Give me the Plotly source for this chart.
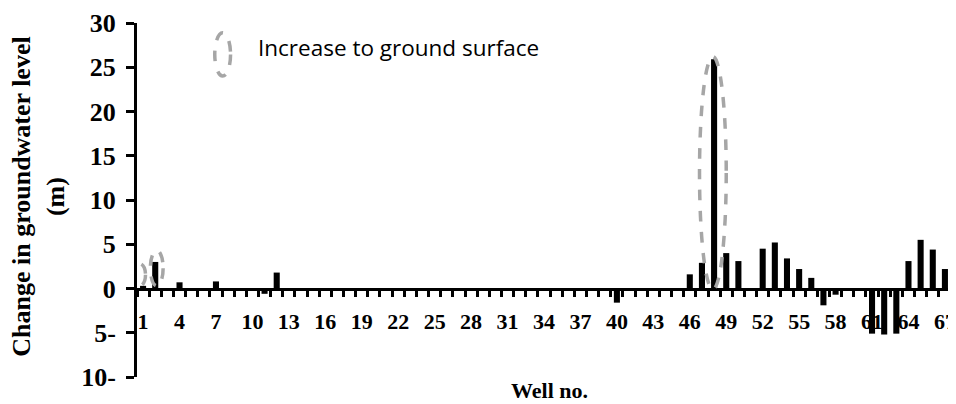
import plotly.graph_objects as go

wells = list(range(1, 68))
change_m = [
    0.3, 3.0, 0, 0.7, 0, 0, 0.8, 0, 0, 0,
    -0.6, 1.8, 0, 0, 0, 0, 0, 0, 0, 0,
    0, 0, 0, 0, 0, 0, 0, 0, 0, 0,
    0, 0, 0, 0, 0, 0, 0, 0, 0, -1.6,
    0, 0, 0, 0, 0, 1.6, 2.9, 25.9, 4.0, 3.1,
    0, 4.5, 5.2, 3.4, 2.2, 1.2, -1.9, -0.7, 0, 0,
    -5.1, -5.2, -5.1, 3.1, 5.5, 4.4, 2.2,
]
x_tick_vals = list(range(1, 68, 3))
x_tick_text = [str(v) for v in x_tick_vals]
y_tick_vals = [-10, -5, 0, 5, 10, 15, 20, 25, 30]
y_tick_text = ["10-", "5-", "0", "5", "10", "15", "20", "25", "30"]

# ellipses marking "increase to ground surface": (x0, x1, y0, y1) in data units
ellipses = [
    (0.25, 1.2, 0.3, 2.8),
    (1.6, 2.65, 0.3, 4.3),
    (46.8, 49.0, -0.1, 26.2),
]
legend_ellipse = (6.9, 8.2, 24.0, 28.9)
legend_label = "Increase to ground surface"

# tick marks sit on the boundaries between wells
boundaries = [w - 0.5 for w in wells] + [wells[-1] + 0.5]

serif = "Liberation Serif"
fig = go.Figure()
fig.add_trace(go.Bar(x=wells, y=change_m, width=0.5,
                     marker=dict(color="black", line=dict(width=0)),
                     showlegend=False))
# invisible trace so the tick-mark axis is drawn
fig.add_trace(go.Scatter(x=[boundaries[0]], y=[0], xaxis="x2", mode="markers",
                         marker=dict(opacity=0), showlegend=False, hoverinfo="skip"))

gray = "#a6a6a6"
for (x0, x1, y0, y1) in ellipses + [legend_ellipse]:
    fig.add_shape(type="circle", xref="x", yref="y", x0=x0, x1=x1, y0=y0, y1=y1,
                  line=dict(color=gray, width=3.5, dash="dash"), layer="above")

fig.add_annotation(x=10.3, y=27.25, xref="x", yref="y", text=legend_label,
                   showarrow=False, xanchor="left", yanchor="middle",
                   font=dict(family="Open Sans", size=22.5, color="black"))

fig.add_annotation(x=(38 - 137) / 819, y=0.508, xref="paper", yref="paper",
                   text="<b>Change in groundwater level<br>(m)</b>", textangle=-90,
                   showarrow=False, xanchor="center", yanchor="middle",
                   font=dict(family=serif, size=26, color="black"))

fig.add_annotation(x=(552 - 137) / 819, y=-0.038, xref="paper", yref="paper",
                   text="<b>Well no.</b>", showarrow=False,
                   xanchor="center", yanchor="middle", borderpad=0,
                   font=dict(family=serif, size=22, color="black"))

fig.update_layout(
    width=948, height=396,
    margin=dict(l=129, r=0, t=15, b=27),
    plot_bgcolor="white", paper_bgcolor="white",
    xaxis=dict(
        range=[0.5, 67.5], anchor="free", position=0.25,
        showline=True, linecolor="black", linewidth=3,
        tickmode="array", tickvals=x_tick_vals, ticktext=x_tick_text,
        ticks="", showgrid=False, zeroline=False,
        ticklabelstandoff=12, ticklabeloverflow="allow",
        tickfont=dict(family=serif, size=22, color="black", weight="bold"),
    ),
    xaxis2=dict(
        range=[0.5, 67.5], overlaying="x", anchor="free", position=0.25,
        showline=False, tickmode="array", tickvals=boundaries,
        ticks="outside", ticklen=7, tickwidth=3, tickcolor="black",
        showticklabels=False, showgrid=False, zeroline=False,
    ),
    yaxis=dict(
        range=[-10, 30], showline=True, linecolor="black", linewidth=3,
        tickmode="array", tickvals=y_tick_vals, ticktext=y_tick_text,
        ticks="outside", ticklen=8, tickwidth=3, tickcolor="black",
        showgrid=False, zeroline=False, ticklabelstandoff=5,
        tickfont=dict(family=serif, size=26, color="black", weight="bold"),
    ),
)

fig.write_html("out.html")
